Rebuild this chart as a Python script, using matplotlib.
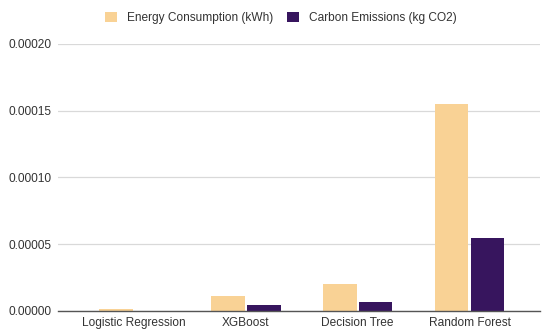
import matplotlib
matplotlib.use('Agg')
import matplotlib.pyplot as plt
import numpy as np
from matplotlib.ticker import FuncFormatter

models = ['Logistic Regression', 'XGBoost', 'Decision Tree', 'Random Forest']
energy_kwh = [0.0000012, 0.0000113, 0.0000200, 0.0001550]
carbon_kg = [0.0000001, 0.0000040, 0.0000064, 0.0000548]
y_ticks = [0.0, 0.00005, 0.00010, 0.00015, 0.00020]

plt.rcParams['font.family'] = ['Liberation Sans', 'DejaVu Sans']

fig = plt.figure(figsize=(5.43, 3.29), dpi=100)
ax = fig.add_axes([58 / 543, 18.3 / 329, 482 / 543, 266.7 / 329])

x = np.arange(len(models))
w = 0.30
ax.bar(x - 0.16, energy_kwh, w, color='#F9D295', label='Energy Consumption (kWh)', zorder=3)
ax.bar(x + 0.16, carbon_kg, w, color='#37155E', label='Carbon Emissions (kg CO2)', zorder=3)

ax.set_xlim(-0.68, 3.63)
ax.set_ylim(0, 0.0002)
ax.set_yticks(y_ticks)
ax.yaxis.set_major_formatter(FuncFormatter(lambda v, p: '%.5f' % v))
ax.set_xticks(x)
ax.set_xticklabels(models)

ax.grid(axis='y', color='#D9D9D9', linewidth=0.9, zorder=0)
for s in ['top', 'right', 'left']:
    ax.spines[s].set_visible(False)
ax.spines['bottom'].set_color('#555555')
ax.spines['bottom'].set_linewidth(1.0)
ax.spines['bottom'].set_zorder(4)
ax.tick_params(axis='both', length=0, labelsize=8.6, colors='#333333')
ax.tick_params(axis='y', pad=5)
ax.tick_params(axis='x', pad=4.5)

leg = fig.legend(loc='center', bbox_to_anchor=(281 / 543, 1 - 18 / 329), ncol=2,
                 frameon=False, fontsize=8.6, handlelength=1.0, handleheight=1.0,
                 columnspacing=1.2, handletextpad=0.8)
for t in leg.get_texts():
    t.set_color('#333333')

fig.savefig('out.png', dpi=100)
